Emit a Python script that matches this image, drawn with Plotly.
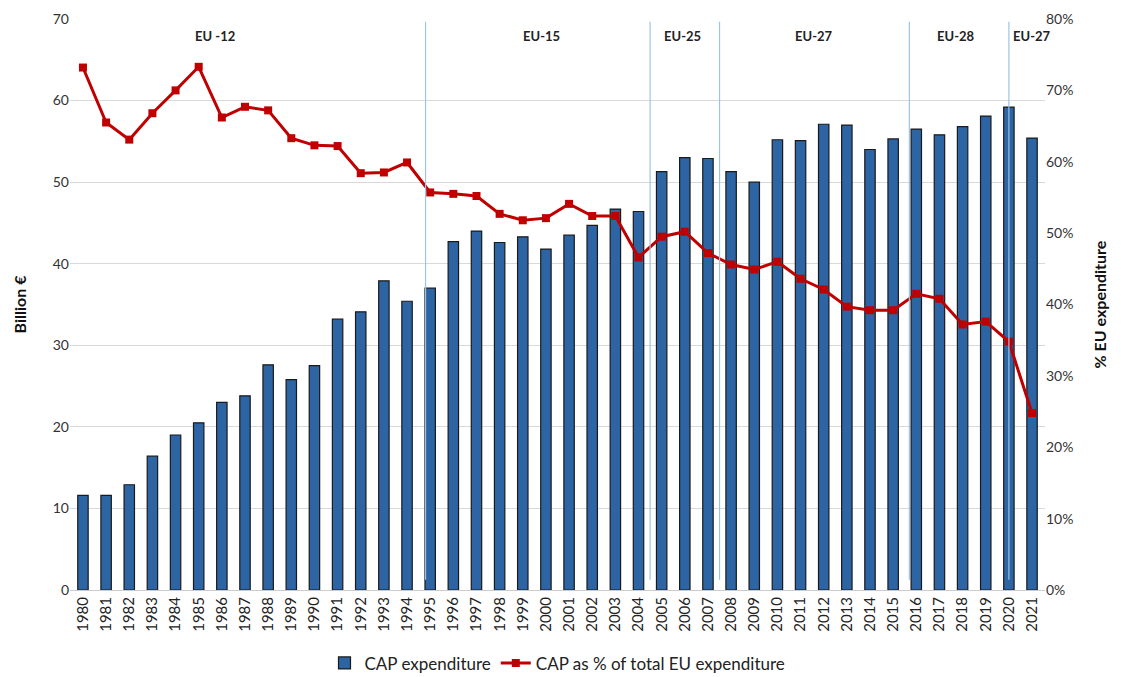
import plotly.graph_objects as go

years = list(range(1980, 2022))
cap_expenditure = [11.6, 11.6, 12.9, 16.4, 19.0, 20.5, 23.0, 23.8, 27.6, 25.8,
                   27.5, 33.2, 34.1, 37.9, 35.4, 37.0, 42.7, 44.0, 42.6, 43.3,
                   41.8, 43.5, 44.7, 46.7, 46.4, 51.3, 53.0, 52.9, 51.3, 50.0,
                   55.2, 55.1, 57.1, 57.0, 54.0, 55.3, 56.5, 55.8, 56.8, 58.1,
                   59.2, 55.4]
cap_share_pct = [73.2, 65.5, 63.1, 66.8, 70.0, 73.3, 66.2, 67.7, 67.2, 63.3,
                 62.3, 62.2, 58.4, 58.5, 59.9, 55.7, 55.5, 55.2, 52.7, 51.8,
                 52.1, 54.1, 52.4, 52.4, 46.6, 49.5, 50.2, 47.2, 45.6, 44.9,
                 46.0, 43.6, 42.1, 39.7, 39.2, 39.2, 41.5, 40.8, 37.2, 37.6,
                 34.8, 24.8]
period_labels = ["EU -12", "EU-15", "EU-25", "EU-27", "EU-28", "EU-27"]
period_label_x = [1985.7, 1999.8, 2005.9, 2011.6, 2017.7, 2021.0]
divider_x = [1994.8, 2004.5, 2007.5, 2015.7, 2020.0]

FONT = "Lato, 'Open Sans', sans-serif"

fig = go.Figure()
fig.add_trace(go.Bar(
    x=years, y=cap_expenditure, name="CAP expenditure",
    marker=dict(color="#2C64A4", line=dict(color="#1a1a1a", width=1.2)),
    width=0.45,
))
fig.add_trace(go.Scatter(
    x=years, y=cap_share_pct, name="CAP as % of total EU expenditure",
    mode="lines+markers", yaxis="y2",
    line=dict(color="#C00000", width=3),
    marker=dict(symbol="square", size=8, color="#C00000"),
))

for xv in divider_x:
    fig.add_shape(type="line", x0=xv, x1=xv, y0=0.018, y1=0.995, xref="x", yref="paper",
                  line=dict(color="#9DC3E6", width=1.2), layer="above")

for lbl, xv in zip(period_labels, period_label_x):
    fig.add_annotation(x=xv, y=67.9, xref="x", yref="y", text=f"<b>{lbl}</b>",
                       showarrow=False, font=dict(size=13, color="#222", family=FONT))

fig.update_layout(
    width=1121, height=677,
    margin=dict(l=62, r=84, t=11, b=95, autoexpand=False),
    paper_bgcolor="white", plot_bgcolor="white",
    font=dict(family=FONT, size=14, color="#222"),
    xaxis=dict(range=[1979.44, 2021.56], tickmode="array", tickvals=years,
               ticktext=[str(y) for y in years], tickangle=-90, automargin=False,
               showgrid=False, showline=True, linecolor="#cccccc", linewidth=1,
               ticks="", tickfont=dict(size=15, color="#222")),
    yaxis=dict(range=[0, 70], dtick=10, showgrid=True, gridcolor="#d9d9d9",
               zeroline=False, ticks="", automargin=False, ticklabeloverflow="allow",
               tickfont=dict(size=14, color="#333"),
               title=dict(text="<b>Billion €</b>", font=dict(size=16, color="#111"), standoff=22)),
    yaxis2=dict(range=[0, 80], dtick=10, overlaying="y", side="right",
                ticksuffix="%", showgrid=False, zeroline=False, ticks="", automargin=False,
                ticklabeloverflow="allow", tickfont=dict(size=14, color="#333"),
                title=dict(text="<b>% EU expenditure</b>", font=dict(size=16, color="#111"), standoff=22)),
    legend=dict(orientation="h", x=0.5, xanchor="center", y=0.032, yanchor="middle",
                yref="container", font=dict(size=17, color="#222"), traceorder="normal"),
    showlegend=True,
)

fig.write_html("out.html")
